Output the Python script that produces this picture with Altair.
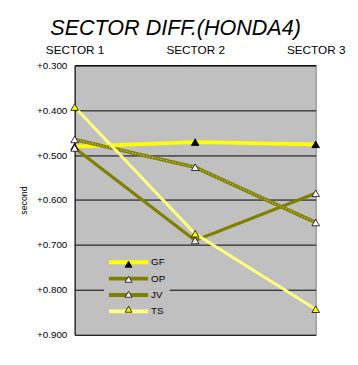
import altair as alt
import pandas as pd

sectors = ["SECTOR 1", "SECTOR 2", "SECTOR 3"]
drivers = ["GF", "OP", "JV", "TS"]
gf = [0.481, 0.471, 0.476]
op = [0.465, 0.527, 0.650]
jv = [0.484, 0.690, 0.585]
ts = [0.393, 0.675, 0.843]
y_ticks = [0.3, 0.4, 0.5, 0.6, 0.7, 0.8, 0.9]

line_colors = ["#FFFF00", "#808000", "#808000", "#FFFF80"]
marker_fills = ["#000000", "#FFFFFF", "#FFFFFF", "#FFFF00"]
line_widths = [4, 3, 4, 4]

rows = []
for name, vals in zip(drivers, [gf, op, jv, ts]):
    for s, v in zip(sectors, vals):
        rows.append({"driver": name, "sector": s, "value": v})
df = pd.DataFrame(rows)

FONT = "Liberation Sans"

common = dict(
    orient="none", legendX=30, title=None, padding=4,
    labelFont=FONT, labelFontSize=10, labelColor="black",
)
line_legend = alt.Legend(
    symbolType="M-8,0L8,0", symbolSize=25, symbolStrokeWidth=4,
    symbolOpacity=1, symbolOffset=16, labelOffset=18, rowPadding=0.7,
    legendY=192, fillColor="#C0C0C0", zindex=0, **common,
)
marker_legend = alt.Legend(
    symbolType="triangle-up", symbolSize=50, symbolStrokeWidth=0.8,
    symbolStrokeColor="black", symbolOpacity=1, symbolOffset=16,
    rowPadding=5.3, legendY=194, labelOpacity=0, zindex=1, **common,
)

x = alt.X(
    "sector:N",
    scale=alt.Scale(domain=sectors, type="point", padding=0),
    axis=alt.Axis(
        orient="top", title=None, labelAngle=0, labelFont=FONT,
        labelFontSize=12, labelColor="black", labelPadding=9,
        tickSize=0, domainColor="black", grid=False,
    ),
)
y = alt.Y(
    "value:Q",
    scale=alt.Scale(domain=[0.3, 0.9], reverse=True, nice=False, zero=False),
    axis=alt.Axis(
        values=y_ticks, format="+.3f", title="second", titleFont=FONT,
        titleFontSize=9, titleFontWeight="normal", titleColor="black",
        titlePadding=8, labelFont=FONT, labelFontSize=10,
        labelColor="black", labelPadding=8, tickSize=0,
        domainColor="black", grid=True, gridColor="black",
        gridOpacity=1, gridWidth=1,
    ),
)

base = alt.Chart(df)

lines = base.mark_line(interpolate="linear").encode(
    x=x, y=y,
    stroke=alt.Stroke("driver:N", scale=alt.Scale(domain=drivers, range=line_colors), legend=line_legend),
    strokeWidth=alt.StrokeWidth("driver:N", scale=alt.Scale(domain=drivers, range=line_widths), legend=None),
    detail="driver:N",
)

op_pattern = base.transform_filter(alt.datum.driver == "OP").mark_line(
    color="#E8E8B0", strokeWidth=1, strokeDash=[1, 2]
).encode(x=x, y=y)

points = base.mark_point(
    shape="triangle-up", filled=True, size=60, stroke="black",
    strokeWidth=0.8, opacity=1,
).encode(
    x=x, y=y,
    fill=alt.Fill("driver:N", sort=drivers, scale=alt.Scale(range=marker_fills), legend=marker_legend),
)

chart = alt.layer(lines, op_pattern, points).resolve_legend(
    stroke="independent", fill="independent"
).properties(
    width=246, height=275,
    padding={"left": 12, "top": 6, "right": 5, "bottom": 5},
    title=alt.TitleParams(
        "SECTOR DIFF.(HONDA4)", font=FONT, fontStyle="italic",
        fontSize=22, fontWeight="normal", anchor="middle", dx=-20,
        color="black", offset=4,
    ),
    background="white",
).configure_view(fill="#C0C0C0", stroke="#808080")

chart.save("out.html", embed_options={"renderer": "svg", "actions": False})
